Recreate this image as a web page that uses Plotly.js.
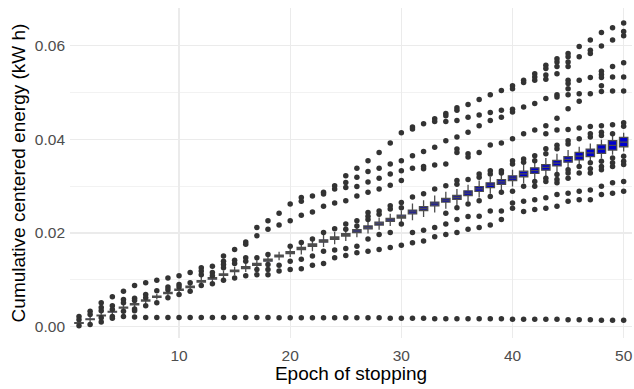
<!DOCTYPE html>
<html>
<head>
<meta charset="utf-8">
<script src="https://cdn.plot.ly/plotly-3.0.1.min.js"></script>
<style>html,body{margin:0;padding:0;background:#fff;}#chart{width:634px;height:389px;}</style>
</head>
<body>
<div id="chart"></div>
<script>
const epochs = Array.from({length: 50}, (_, i) => i + 1);

const median = [0.0008,0.0016,0.0024,0.0032,0.0041,0.0048,0.0056,0.0064,0.0072,0.0079,
0.0085,0.0097,0.0103,0.0111,0.0119,0.0126,0.0133,0.0142,0.0151,0.0158,
0.0167,0.0174,0.0183,0.0189,0.0196,0.0204,0.0212,0.0220,0.0228,0.0235,
0.0245,0.0252,0.0262,0.0270,0.0276,0.0285,0.0294,0.0302,0.0309,0.0317,
0.0326,0.0333,0.0340,0.0349,0.0357,0.0364,0.0371,0.0379,0.0387,0.0394];

const q1 = [0.0007,0.0015,0.0023,0.0031,0.0040,0.00468,0.00548,0.00628,0.00708,0.00778,
0.00835,0.00955,0.01015,0.01095,0.01175,0.0124,0.0131,0.0140,0.0149,0.0156,
0.01645,0.01715,0.01805,0.01865,0.01935,0.0201,0.0209,0.0217,0.0225,0.0232,
0.0241,0.0248,0.0258,0.0266,0.0272,0.0280,0.0289,0.0297,0.0304,0.0312,
0.0320,0.0327,0.0334,0.0343,0.0351,0.0356,0.0363,0.0370,0.0377,0.0384];

const q3 = [0.0009,0.0017,0.0025,0.0033,0.0042,0.00492,0.00572,0.00652,0.00732,0.00802,
0.00865,0.00985,0.01045,0.01125,0.01205,0.0128,0.0135,0.0144,0.0153,0.0160,
0.01695,0.01765,0.01855,0.01915,0.01985,0.0207,0.0215,0.0223,0.0231,0.0238,
0.0249,0.0256,0.0266,0.0274,0.0280,0.0290,0.0299,0.0307,0.0314,0.0322,
0.0332,0.0339,0.0346,0.0355,0.0363,0.0372,0.0379,0.0388,0.0397,0.0404];

const whiskerLow = [0.0002,0.0010,0.0018,0.0026,0.0035,0.0042,0.0050,0.0058,0.0066,0.0073,
0.0076,0.0088,0.0094,0.0102,0.0110,0.0117,0.0124,0.0133,0.0142,0.0149,
0.0154,0.0161,0.0170,0.0176,0.0183,0.0191,0.0199,0.0207,0.0215,0.0222,
0.0227,0.0234,0.0244,0.0252,0.0258,0.0267,0.0276,0.0284,0.0291,0.0299,
0.0306,0.0313,0.0320,0.0329,0.0337,0.0344,0.0351,0.0359,0.0367,0.0374];

const whiskerHigh = [0.0014,0.0022,0.0030,0.0038,0.0047,0.0054,0.0062,0.0070,0.0078,0.0085,
0.0094,0.0106,0.0112,0.0120,0.0128,0.0135,0.0142,0.0151,0.0160,0.0167,
0.0180,0.0187,0.0196,0.0202,0.0209,0.0217,0.0225,0.0233,0.0241,0.0248,
0.0263,0.0270,0.0280,0.0288,0.0294,0.0303,0.0312,0.0320,0.0327,0.0335,
0.0346,0.0353,0.0360,0.0369,0.0377,0.0384,0.0391,0.0399,0.0407,0.0414];

const outliers = [
[0.0022,0.0015,0.0002],
[0.0033,0.0026,0.0005],
[0.0051,0.0041,0.0034,0.0019,0.0010],
[0.0064,0.0045,0.0037,0.0022,0.0018],
[0.0076,0.0058,0.0051,0.0033,0.0022],
[0.0088,0.0061,0.0056,0.0038,0.0034],
[0.0094,0.0069,0.0062,0.0045],
[0.0099,0.0077,0.0051],
[0.0104,0.0085,0.0079,0.0062],
[0.0109,0.0090,0.0085,0.0069],
[0.0116,0.0094,0.0076],
[0.0126,0.0119,0.0111,0.0088],
[0.0129,0.0116,0.0109,0.0092],
[0.0151,0.0140,0.0133,0.0126,0.0099],
[0.0165,0.0142,0.0135,0.0104],
[0.0181,0.0176,0.0147,0.0140,0.0109],
[0.0212,0.0194,0.0147,0.0122,0.0111],
[0.0226,0.0208,0.0154,0.0133,0.0122,0.0111],
[0.0242,0.0217,0.0131,0.0119],
[0.0262,0.0226,0.0172,0.0140,0.0122],
[0.0276,0.0268,0.0238,0.0180,0.0144,0.0124],
[0.0279,0.0245,0.0187,0.0151,0.0131],
[0.0287,0.0283,0.0257,0.0201,0.0161,0.0135],
[0.0301,0.0294,0.0264,0.0209,0.0164,0.0147],
[0.0322,0.0308,0.0297,0.0269,0.0219,0.0208,0.0167,0.0152],
[0.0338,0.0319,0.0299,0.0279,0.0226,0.0215,0.0172,0.0158],
[0.0354,0.0331,0.0309,0.0287,0.0244,0.0236,0.0229,0.0187,0.0161],
[0.0372,0.0338,0.0317,0.0294,0.0247,0.0240,0.0197,0.0165],
[0.0392,0.0347,0.0326,0.0302,0.0258,0.0251,0.0201,0.0169],
[0.0414,0.0354,0.0333,0.0312,0.0265,0.0254,0.0219,0.0174],
[0.0426,0.0422,0.0365,0.0338,0.0277,0.0201,0.0179],
[0.0433,0.0374,0.0342,0.0337,0.0284,0.0206,0.0183],
[0.0444,0.0438,0.0383,0.0345,0.0294,0.0212,0.0192],
[0.0455,0.0450,0.0438,0.0397,0.0347,0.0301,0.0242,0.0219,0.0197],
[0.0467,0.0462,0.0440,0.0405,0.0379,0.0372,0.0312,0.0304,0.0254,0.0229,0.0201],
[0.0474,0.0447,0.0415,0.0369,0.0362,0.0314,0.0262,0.0235,0.0208],
[0.0485,0.0452,0.0429,0.0372,0.0326,0.0319,0.0269,0.0236,0.0212],
[0.0495,0.0457,0.0440,0.0388,0.0333,0.0326,0.0278,0.0247,0.0217],
[0.0504,0.0462,0.0447,0.0392,0.0333,0.0328,0.0287,0.0247,0.0229],
[0.0514,0.0508,0.0464,0.0458,0.0401,0.0354,0.0347,0.0289,0.0264,0.0253],
[0.0526,0.0521,0.0469,0.0412,0.0358,0.0351,0.0300,0.0268,0.0246],
[0.0540,0.0533,0.0526,0.0476,0.0420,0.0365,0.0354,0.0310,0.0300,0.0271,0.0250],
[0.0558,0.0551,0.0537,0.0528,0.0487,0.0429,0.0412,0.0380,0.0369,0.0317,0.0310,0.0275,0.0253],
[0.0572,0.0565,0.0555,0.0540,0.0495,0.0490,0.0445,0.0420,0.0387,0.0380,0.0325,0.0314,0.0307,0.0282,0.0257],
[0.0583,0.0576,0.0565,0.0555,0.0526,0.0519,0.0508,0.0495,0.0465,0.0421,0.0397,0.0390,0.0335,0.0328,0.0317,0.0285,0.0268],
[0.0598,0.0576,0.0526,0.0497,0.0481,0.0424,0.0401,0.0342,0.0328,0.0289,0.0271],
[0.0612,0.0590,0.0583,0.0532,0.0497,0.0427,0.0412,0.0405,0.0350,0.0337,0.0328,0.0292,0.0271],
[0.0628,0.0599,0.0545,0.0538,0.0532,0.0514,0.0502,0.0429,0.0415,0.0408,0.0353,0.0342,0.0335,0.0300,0.0282],
[0.0638,0.0612,0.0555,0.0533,0.0503,0.0431,0.0412,0.0360,0.0350,0.0342,0.0307,0.0285],
[0.0648,0.0630,0.0621,0.0563,0.0533,0.0503,0.0435,0.0428,0.0364,0.0353,0.0346,0.0310,0.0289]
];

// run that stopped early: stays flat near zero
const flatRun = [null,null,null,null,null,0.0021,0.0020,0.0020,0.0020,0.0020,
0.0020,0.0020,0.0020,0.0020,0.0020,0.0020,0.0020,0.0020,0.0019,0.0019,
0.0019,0.0019,0.0019,0.0019,0.0019,0.0019,0.0019,0.0019,0.0018,0.0018,
0.0018,0.0018,0.0017,0.0017,0.0017,0.0017,0.0017,0.0017,0.0017,0.0016,
0.0016,0.0016,0.0016,0.0016,0.0015,0.0015,0.0015,0.0014,0.0014,0.0014];

const ptX = [], ptY = [];
outliers.forEach((arr, i) => arr.forEach(v => { ptX.push(epochs[i]); ptY.push(v); }));
flatRun.forEach((v, i) => { if (v !== null) { ptX.push(epochs[i]); ptY.push(v); } });

const traces = [
  {
    type: 'box',
    x: epochs,
    q1: q1, median: median, q3: q3,
    lowerfence: whiskerLow, upperfence: whiskerHigh,
    boxpoints: false,
    width: 0.75,
    whiskerwidth: 0,
    fillcolor: '#0000CD',
    line: {color: '#4D4D4D', width: 1.3},
    hoverinfo: 'skip',
    showlegend: false
  },
  {
    type: 'scatter',
    mode: 'markers',
    x: ptX, y: ptY,
    marker: {color: '#333333', size: 5.5},
    hoverinfo: 'skip',
    showlegend: false
  }
];

const font = 'Liberation Sans, Arial, sans-serif';
const layout = {
  width: 634, height: 389,
  margin: {l: 70, r: 2, t: 8, b: 51},
  paper_bgcolor: '#fff', plot_bgcolor: '#fff',
  font: {family: font},
  showlegend: false,
  xaxis: {
    range: [0.19, 50.75],
    tickvals: [10, 20, 30, 40, 50],
    showgrid: true, gridcolor: '#EBEBEB', gridwidth: 1.2,
    zeroline: false, showline: false, ticks: '',
    ticklabelstandoff: 6,
    tickfont: {family: font, size: 15.5, color: '#4D4D4D'},
    title: {text: 'Epoch of stopping', font: {family: font, size: 19, color: '#000'}, standoff: 4}
  },
  yaxis: {
    range: [-0.0024, 0.068],
    tick0: 0, dtick: 0.02, tickformat: '.2f',
    showgrid: true, gridcolor: '#EBEBEB', gridwidth: 1.2,
    minor: {dtick: 0.01, showgrid: true, gridcolor: '#F2F2F2', gridwidth: 1},
    zeroline: false, showline: false, ticks: '',
    ticklabelstandoff: 4,
    tickfont: {family: font, size: 15.5, color: '#4D4D4D'},
    title: {text: 'Cumulative centered energy (kW h)', font: {family: font, size: 19, color: '#000'}, standoff: 4}
  }
};

Plotly.newPlot('chart', traces, layout, {displayModeBar: false, staticPlot: true});
</script>
</body>
</html>
